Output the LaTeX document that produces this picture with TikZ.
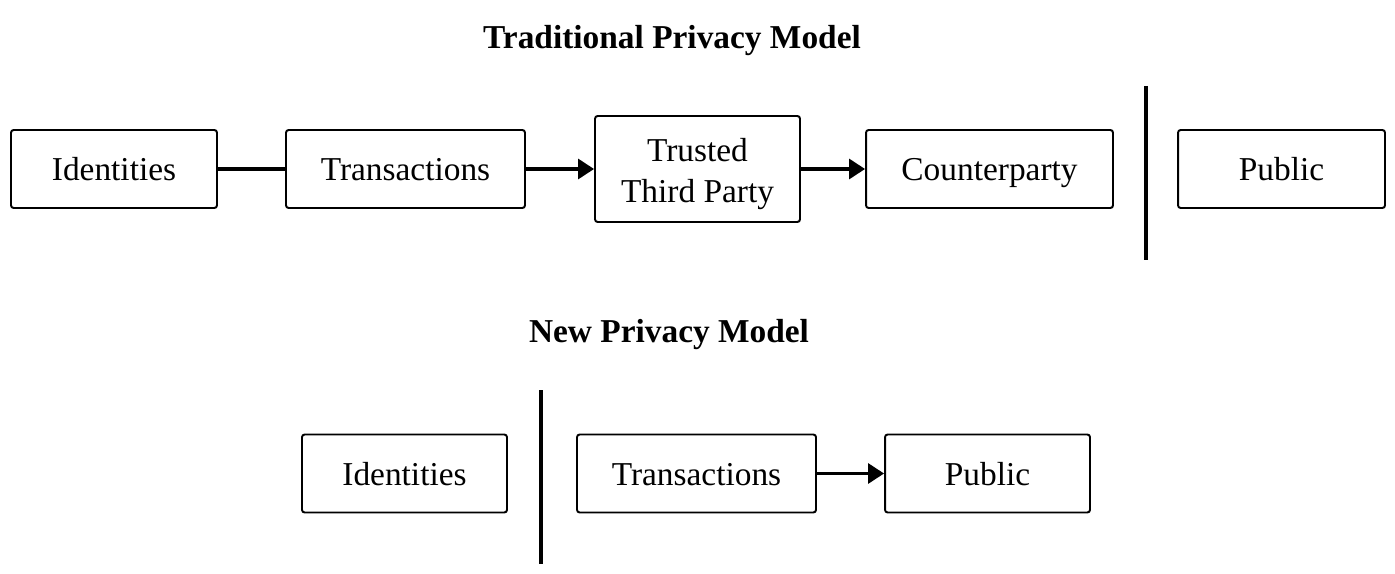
\documentclass[tikz,border=0pt]{standalone}
\usepackage{fontspec}
\setmainfont{Liberation Serif}
\usetikzlibrary{arrows.meta}
\begin{document}
\begin{tikzpicture}[x=0.02cm,y=-0.02cm,
  box/.style={draw,line width=1.1pt,rounded corners=1.5pt,minimum height=1.56cm,inner sep=0pt,font=\fontsize{19}{22}\selectfont,align=center,text height=13.5pt,text depth=0pt},
  conn/.style={line width=1.8pt},
  arr/.style={conn,-{Triangle[length=0.32cm,width=0.4cm]}},
  sep/.style={line width=1.8pt},
  ttl/.style={font=\fontsize{19}{22}\selectfont\bfseries}]
\useasboundingbox (0,0) rectangle (1395,574);
\node[ttl] (t1) at (672,41) {Traditional Privacy Model};
\node[box,minimum width=4.12cm] (id1) at (114,169) {Identities};
\node[box,minimum width=4.78cm] (tr1) at (405.5,169) {Transactions};
\node[box,minimum width=4.1cm,minimum height=2.12cm,text height=,text depth=] (ttp) at (697.5,169) {\rule{0pt}{19pt}Trusted\\[1pt]Third Party};
\node[box,minimum width=4.94cm] (cp) at (989.5,169) {Counterparty};
\node[box,minimum width=4.14cm] (pub1) at (1281.5,169) {Public};
\coordinate (v1a) at (1146,86);
\coordinate (v1b) at (1146,260);
\draw[sep] (v1a) -- (v1b);
\draw[conn] (id1) -- (tr1);
\draw[arr] (tr1) -- (ttp);
\draw[arr] (ttp) -- (cp);

\node[ttl] (t2) at (669,335) {New Privacy Model};
\node[box,minimum width=4.1cm] (id2) at (404.5,473.5) {Identities};
\node[box,minimum width=4.78cm] (tr2) at (696.5,473.5) {Transactions};
\node[box,minimum width=4.1cm] (pub2) at (987.5,473.5) {Public};
\coordinate (v2a) at (541,390);
\coordinate (v2b) at (541,564);
\draw[sep] (v2a) -- (v2b);
\draw[arr] (tr2) -- (pub2);
\end{tikzpicture}
\end{document}
